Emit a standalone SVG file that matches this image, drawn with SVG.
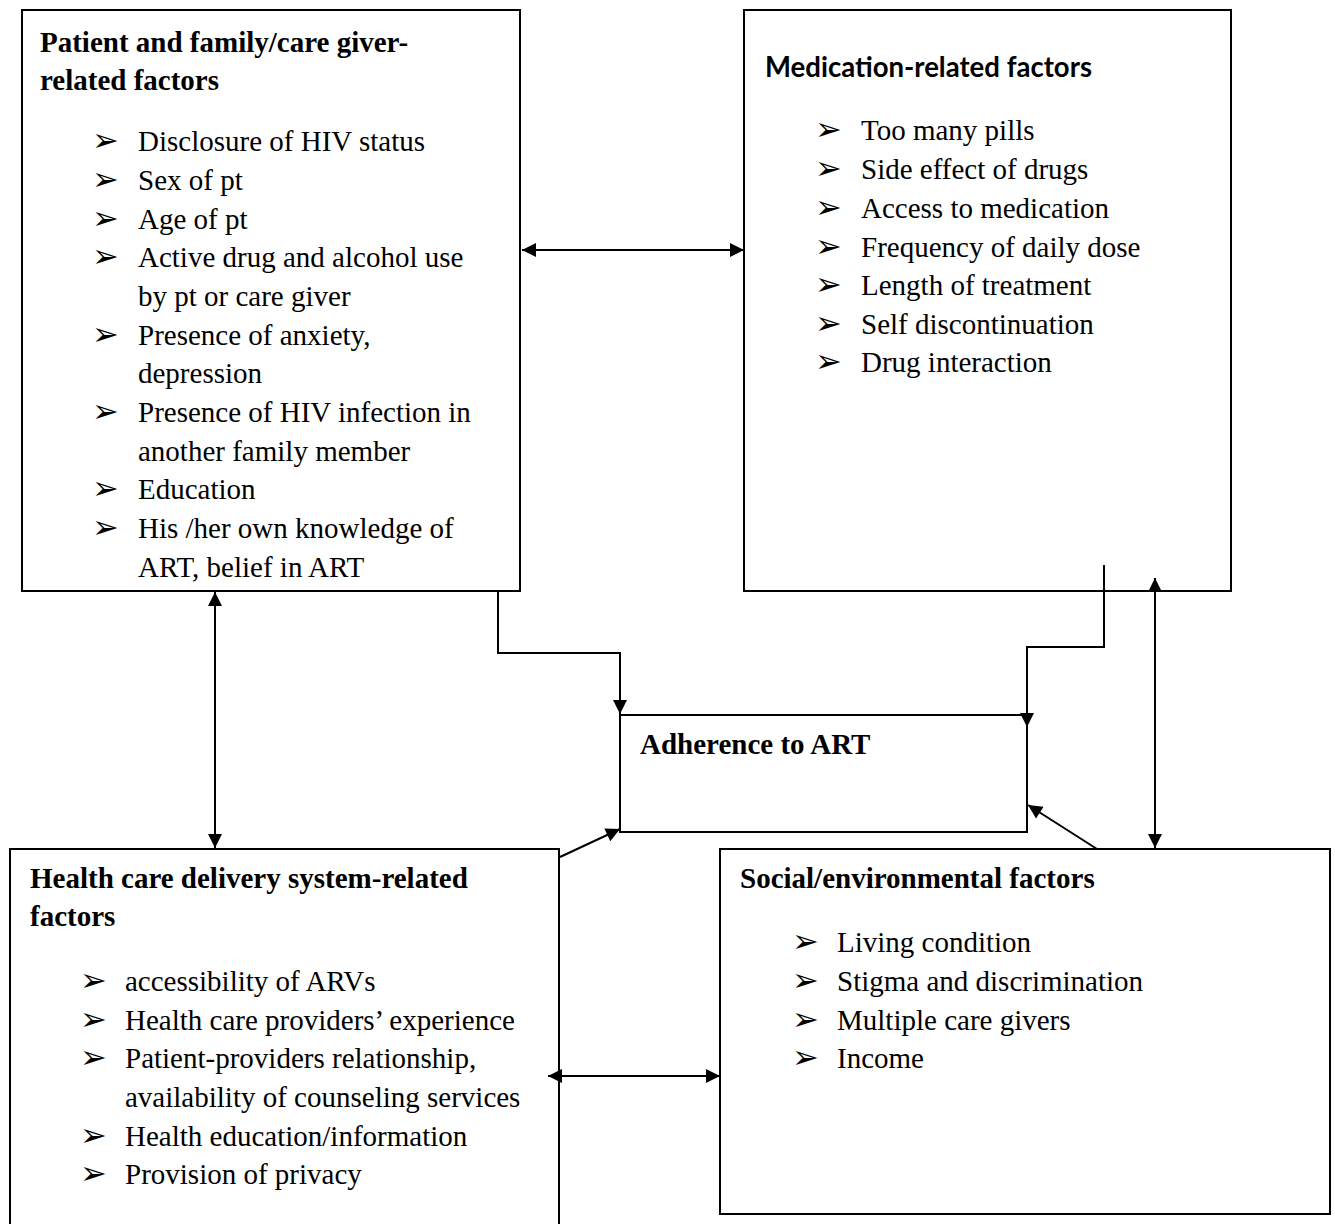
<svg xmlns="http://www.w3.org/2000/svg" width="1335" height="1224" viewBox="0 0 1335 1224">
<style>
.box{fill:#fff;stroke:#000;stroke-width:2}
.t{font-family:"Liberation Serif","Times New Roman",serif;font-size:29px;fill:#000}
.b{font-weight:bold}
.bul{font-family:"DejaVu Sans",sans-serif;font-size:32px;fill:#000}
.cal{font-family:Lato,"Liberation Sans",sans-serif;font-weight:bold;font-size:28px;fill:#000}
.c{fill:none;stroke:#000;stroke-width:2}
</style>
<defs>
<marker id="ah" viewBox="0 0 10 10" refX="10" refY="5" markerWidth="15" markerHeight="14" markerUnits="userSpaceOnUse" orient="auto-start-reverse">
<path d="M0,0 L10,5 L0,10 Z" fill="#000"/>
</marker>
</defs>
<rect x="0" y="0" width="1335" height="1224" fill="#fff"/>
<g id="patient">
<rect class="box" x="22" y="10" width="498" height="581"/>
<text class="t b" x="40" y="52">Patient and family/care giver-</text>
<text class="t b" x="40" y="90">related factors</text>
<g class="bul"><text x="92" y="151">➢</text><text x="92" y="190">➢</text><text x="92" y="229">➢</text><text x="92" y="267">➢</text><text x="92" y="345">➢</text><text x="92" y="422">➢</text><text x="92" y="499">➢</text><text x="92" y="538">➢</text></g>
<g class="t">
<text x="138" y="151">Disclosure of HIV status</text>
<text x="138" y="190">Sex of pt</text>
<text x="138" y="229">Age of pt</text>
<text x="138" y="267">Active drug and alcohol use</text>
<text x="138" y="306">by pt or care giver</text>
<text x="138" y="345">Presence of anxiety,</text>
<text x="138" y="383">depression</text>
<text x="138" y="422">Presence of HIV infection in</text>
<text x="138" y="461">another family member</text>
<text x="138" y="499">Education</text>
<text x="138" y="538">His /her own knowledge of</text>
<text x="138" y="577">ART, belief in ART</text>
</g>
</g>
<g id="medication">
<rect class="box" x="744" y="10" width="487" height="581"/>
<text class="cal" x="765" y="77" textLength="327" lengthAdjust="spacingAndGlyphs">Medication-related factors</text>
<g class="bul"><text x="815" y="140">➢</text><text x="815" y="179">➢</text><text x="815" y="218">➢</text><text x="815" y="257">➢</text><text x="815" y="295">➢</text><text x="815" y="334">➢</text><text x="815" y="372">➢</text></g>
<g class="t">
<text x="861" y="140">Too many pills</text>
<text x="861" y="179">Side effect of drugs</text>
<text x="861" y="218">Access to medication</text>
<text x="861" y="257">Frequency of daily dose</text>
<text x="861" y="295">Length of treatment</text>
<text x="861" y="334">Self discontinuation</text>
<text x="861" y="372">Drug interaction</text>
</g>
</g>
<g id="adherence">
<rect class="box" x="620" y="715" width="407" height="117"/>
<text class="t b" x="640" y="754">Adherence to ART</text>
</g>
<g id="health">
<rect class="box" x="10" y="849" width="549" height="400"/>
<text class="t b" x="30" y="888">Health care delivery system-related</text>
<text class="t b" x="30" y="926">factors</text>
<g class="bul"><text x="80" y="991">➢</text><text x="80" y="1030">➢</text><text x="80" y="1068">➢</text><text x="80" y="1146">➢</text><text x="80" y="1184">➢</text></g>
<g class="t">
<text x="125" y="991">accessibility of ARVs</text>
<text x="125" y="1030">Health care providers’ experience</text>
<text x="125" y="1068">Patient-providers relationship,</text>
<text x="125" y="1107">availability of counseling services</text>
<text x="125" y="1146">Health education/information</text>
<text x="125" y="1184">Provision of privacy</text>
</g>
</g>
<g id="social">
<rect class="box" x="720" y="849" width="610" height="365"/>
<text class="t b" x="740" y="888">Social/environmental factors</text>
<g class="bul"><text x="792" y="952">➢</text><text x="792" y="991">➢</text><text x="792" y="1030">➢</text><text x="792" y="1068">➢</text></g>
<g class="t">
<text x="837" y="952">Living condition</text>
<text x="837" y="991">Stigma and discrimination</text>
<text x="837" y="1030">Multiple care givers</text>
<text x="837" y="1068">Income</text>
</g>
</g>
<g id="connectors">
<line class="c" x1="522" y1="250" x2="744" y2="250" marker-start="url(#ah)" marker-end="url(#ah)"/>
<line class="c" x1="215" y1="592" x2="215" y2="848" marker-start="url(#ah)" marker-end="url(#ah)"/>
<polyline class="c" points="498,591 498,653 620,653 620,714" marker-end="url(#ah)"/>
<polyline class="c" points="1104,565 1104,647 1027,647 1027,727" marker-end="url(#ah)"/>
<line class="c" x1="1155" y1="578" x2="1155" y2="848" marker-start="url(#ah)" marker-end="url(#ah)"/>
<line class="c" x1="1097" y1="849" x2="1028" y2="805" marker-end="url(#ah)"/>
<line class="c" x1="560" y1="857" x2="620" y2="829" marker-end="url(#ah)"/>
<line class="c" x1="548" y1="1076" x2="720" y2="1076" marker-start="url(#ah)" marker-end="url(#ah)"/>
</g>
</svg>
